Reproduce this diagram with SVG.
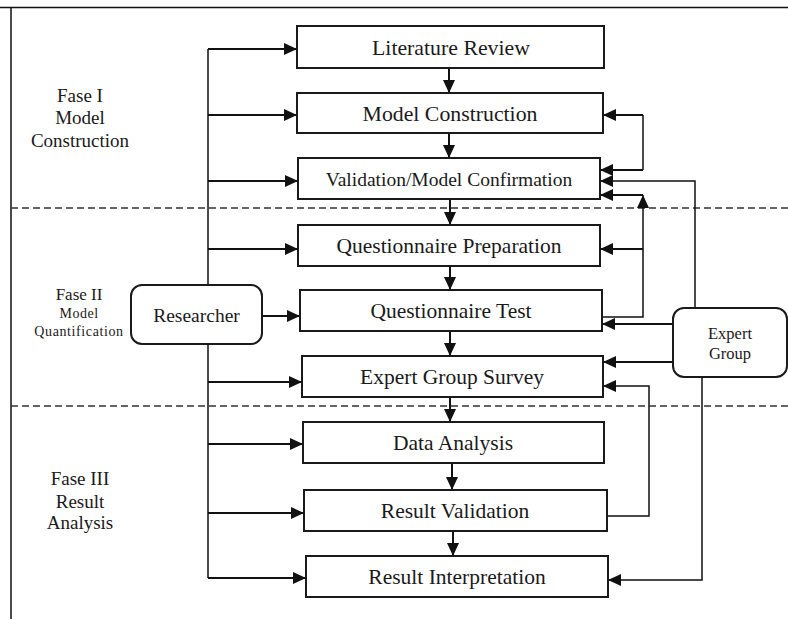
<svg xmlns="http://www.w3.org/2000/svg" width="788" height="619" viewBox="0 0 788 619">
<style>
.box{fill:#fff;stroke:#1a1a1a;stroke-width:2}
.rbox{fill:#fff;stroke:#1a1a1a;stroke-width:2}
.t{font-family:"Liberation Serif","Times New Roman",serif;fill:#1a1a1a;text-anchor:middle}
.c{fill:none;stroke:#111;stroke-width:2}
.c1{fill:none;stroke:#111;stroke-width:1.5}
.frame{fill:none;stroke:#111;stroke-width:1.5}
.dash{fill:none;stroke:#333;stroke-width:1.5;stroke-dasharray:7 4}
</style>
<defs>
<marker id="a" markerUnits="userSpaceOnUse" markerWidth="13" markerHeight="12" refX="13" refY="6" orient="auto">
<path d="M0,0 L13,6 L0,12 z" fill="#111"/>
</marker>
</defs>
<rect width="788" height="619" fill="#fff"/>
<g id="frame">
<path class="frame" d="M0,7.5 H788 M11,8 V619"/>
<path class="dash" d="M11,208 H788 M11,406 H788"/>
</g>
<g id="labels">
<text class="t" font-size="19" x="80" y="102">Fase I</text>
<text class="t" font-size="19" x="80" y="124">Model</text>
<text class="t" font-size="19" x="80" y="147">Construction</text>
<text class="t" font-size="17" x="79" y="300">Fase II</text>
<text class="t" font-size="14" x="79" y="318" letter-spacing="0.5">Model</text>
<text class="t" font-size="14" x="79" y="336" letter-spacing="0.6">Quantification</text>
<text class="t" font-size="19" x="80" y="485">Fase III</text>
<text class="t" font-size="19" x="80" y="508">Result</text>
<text class="t" font-size="19" x="80" y="529">Analysis</text>
</g>
<g id="connectors">
<path class="c1" d="M208,49 V285 M208,344 V578"/>
<path class="c" marker-end="url(#a)" d="M208,49 H297"/>
<path class="c" marker-end="url(#a)" d="M208,115 H297"/>
<path class="c" marker-end="url(#a)" d="M208,181 H298"/>
<path class="c" marker-end="url(#a)" d="M208,249 H298"/>
<path class="c" marker-end="url(#a)" d="M262,316 H300"/>
<path class="c" marker-end="url(#a)" d="M208,382 H302"/>
<path class="c" marker-end="url(#a)" d="M208,444 H303"/>
<path class="c" marker-end="url(#a)" d="M208,513 H304"/>
<path class="c" marker-end="url(#a)" d="M208,578 H306"/>
<path class="c" marker-end="url(#a)" d="M449,68 V93"/>
<path class="c" marker-end="url(#a)" d="M449,133 V158"/>
<path class="c" marker-end="url(#a)" d="M450,199 V225"/>
<path class="c" marker-end="url(#a)" d="M450,266 V290"/>
<path class="c" marker-end="url(#a)" d="M450,331 V356"/>
<path class="c" marker-end="url(#a)" d="M450,397 V422"/>
<path class="c" marker-end="url(#a)" d="M452,463 V490"/>
<path class="c" marker-end="url(#a)" d="M453,531 V556"/>
<path class="c1" d="M643,115 V170"/>
<path class="c" marker-end="url(#a)" d="M643,115 H603"/>
<path class="c" marker-end="url(#a)" d="M643,170 H600"/>
<path class="c1" marker-end="url(#a)" d="M602,317 H643 V195"/>
<path class="c" marker-end="url(#a)" d="M643,195 H600"/>
<path class="c" marker-end="url(#a)" d="M643,249 H600"/>
<path class="c1" marker-end="url(#a)" d="M695,308 V181 H600"/>
<path class="c" marker-end="url(#a)" d="M673,324 H602"/>
<path class="c" marker-end="url(#a)" d="M673,362 H603"/>
<path class="c1" marker-end="url(#a)" d="M702,377 V580 H608"/>
<path class="c1" marker-end="url(#a)" d="M607,516 H649 V386 H603"/>
</g>
<g id="n-lit"><rect class="box" x="297" y="26" width="307" height="42"/><text class="t" font-size="21.8" x="451" y="55">Literature Review</text></g>
<g id="n-mc"><rect class="box" x="297" y="93" width="306" height="40"/><text class="t" font-size="21.8" x="450" y="121">Model Construction</text></g>
<g id="n-val"><rect class="box" x="298" y="158" width="302" height="41"/><text class="t" font-size="19.5" x="449" y="186">Validation/Model Confirmation</text></g>
<g id="n-qp"><rect class="box" x="298" y="225" width="302" height="41"/><text class="t" font-size="21.5" x="449" y="253">Questionnaire Preparation</text></g>
<g id="n-qt"><rect class="box" x="300" y="290" width="302" height="41"/><text class="t" font-size="21.5" x="451" y="318">Questionnaire Test</text></g>
<g id="n-egs"><rect class="box" x="302" y="356" width="301" height="41"/><text class="t" font-size="21.5" x="452" y="384">Expert Group Survey</text></g>
<g id="n-da"><rect class="box" x="303" y="422" width="301" height="41"/><text class="t" font-size="21.5" x="453" y="450">Data Analysis</text></g>
<g id="n-rv"><rect class="box" x="304" y="490" width="303" height="41"/><text class="t" font-size="21.5" x="455" y="518">Result Validation</text></g>
<g id="n-ri"><rect class="box" x="306" y="556" width="302" height="41"/><text class="t" font-size="21.5" x="457" y="584">Result Interpretation</text></g>
<g id="n-res"><rect class="rbox" x="131" y="285" width="131" height="59" rx="11"/><text class="t" font-size="19.5" x="196.5" y="322">Researcher</text></g>
<g id="n-eg"><rect class="rbox" x="673" y="308" width="114" height="69" rx="11"/><text class="t" font-size="16.5" x="730" y="339">Expert</text><text class="t" font-size="16.5" x="730" y="359">Group</text></g>
</svg>
